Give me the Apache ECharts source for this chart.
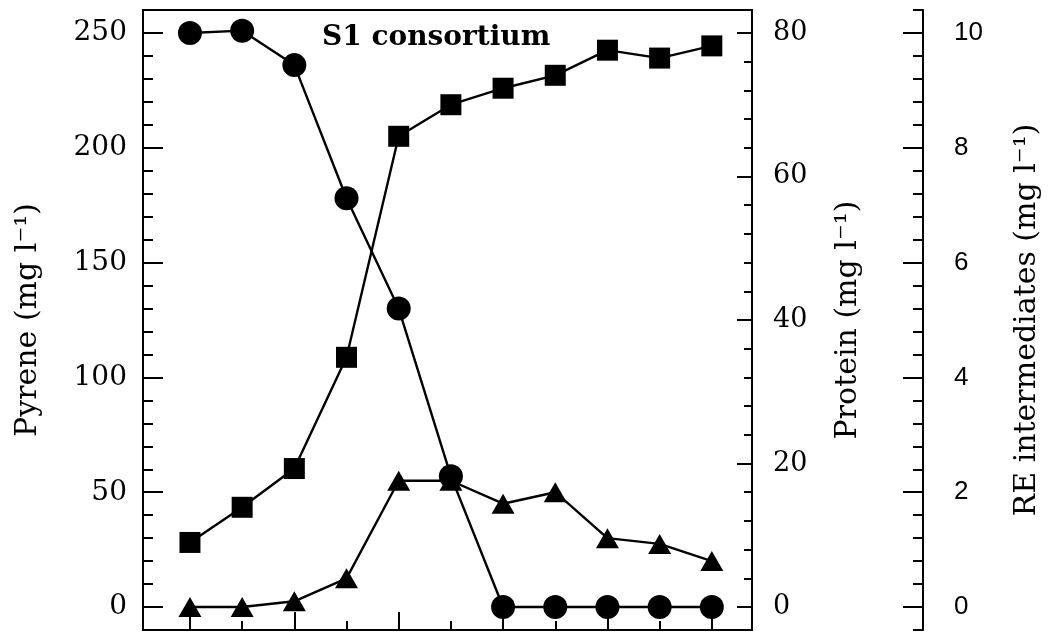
<!DOCTYPE html>
<html>
<head>
<meta charset="utf-8">
<script src="https://cdn.jsdelivr.net/npm/echarts@6/dist/echarts.min.js"></script>
<style>
  html, body { margin: 0; padding: 0; background: #fff; }
</style>
</head>
<body>
<div id="chart" style="width: 1056px; height: 634px;"></div>
<script>
// sampling points (same x for all three series)
const xValues = [0, 1, 2, 3, 4, 5, 6, 7, 8, 9, 10];
// Pyrene (mg l-1), circles, left axis
const pyrene = [250, 251, 236, 178, 130, 57, 0, 0, 0, 0, 0];
// Protein (mg l-1), squares, right axis
const protein = [9.0, 13.9, 19.3, 34.8, 65.6, 70.0, 72.3, 74.1, 77.6, 76.5, 78.2];
// RE intermediates (mg l-1), triangles, far right axis
const reInter = [0, 0, 0.1, 0.5, 2.2, 2.2, 1.8, 2.0, 1.2, 1.1, 0.8];

// tick values
const xMajor = [0, 2, 4, 6, 8, 10];
const xMinor = [1, 3, 5, 7, 9];
const pyreneMajor = [0, 50, 100, 150, 200, 250];
const pyreneMinor = [10, 20, 30, 40, 60, 70, 80, 90, 110, 120, 130, 140, 160, 170, 180, 190, 210, 220, 230, 240];
const proteinMajor = [0, 20, 40, 60, 80];
const proteinMinor = [4, 8, 12, 16, 24, 28, 32, 36, 44, 48, 52, 56, 64, 68, 72, 76];
const reMajor = [0, 2, 4, 6, 8, 10];
const reMinor = [-0.4, 0.4, 0.8, 1.2, 1.6, 2.4, 2.8, 3.2, 3.6, 4.4, 4.8, 5.2, 5.6, 6.4, 6.8, 7.2, 7.6, 8.4, 8.8, 9.2, 9.6, 10.4];

const black = '#000';
const serif = 'DejaVu Serif';

function pairs(ys) {
  return xValues.map((x, i) => [x, ys[i]]);
}

// axis helper: one axis for the long ticks (+labels), another for the short ones
function ax(opt) {
  return Object.assign({
    type: 'value',
    splitLine: { show: false },
    axisLine: { show: false, onZero: false },
    axisTick: { show: false },
    axisLabel: { show: false }
  }, opt);
}

const myChart = echarts.init(document.getElementById('chart'));

const option = {
  animation: false,
  title: {
    text: 'S1 consortium',
    left: 322,
    top: 24,
    padding: 0,
    textStyle: { fontFamily: serif, fontWeight: 'bold', fontSize: 28, color: black }
  },
  grid: {
    left: 143, right: 304, top: 10, bottom: 4,
    outerBoundsMode: 'none', containLabel: false,
    show: true, borderColor: black, borderWidth: 2, backgroundColor: 'transparent'
  },
  xAxis: [
    ax({
      min: -0.9, max: 10.77, position: 'bottom',
      axisTick: { show: true, inside: true, length: 18, customValues: xMajor, lineStyle: { color: black, width: 2 } }
    }),
    ax({
      min: -0.9, max: 10.77, position: 'bottom',
      axisTick: { show: true, inside: true, length: 9, customValues: xMinor, lineStyle: { color: black, width: 2 } }
    })
  ],
  yAxis: [
    ax({
      position: 'left', min: -10, max: 260,
      name: 'Pyrene (mg l⁻¹)', nameLocation: 'middle', nameGap: 100,
      nameTextStyle: { fontFamily: serif, fontSize: 30, color: black },
      axisTick: { show: true, inside: true, length: 20, customValues: pyreneMajor, lineStyle: { color: black, width: 2 } },
      axisLabel: { show: true, customValues: pyreneMajor, margin: 16, fontFamily: serif, fontSize: 28, color: black }
    }),
    ax({
      position: 'left', min: -10, max: 260,
      axisTick: { show: true, inside: true, length: 10, customValues: pyreneMinor, lineStyle: { color: black, width: 2 } }
    }),
    ax({
      position: 'right', min: -3.2, max: 83.2,
      name: 'Protein (mg l⁻¹)', nameLocation: 'middle', nameGap: 81,
      nameTextStyle: { fontFamily: serif, fontSize: 30, color: black },
      axisTick: { show: true, inside: true, length: 15, customValues: proteinMajor, lineStyle: { color: black, width: 2 } },
      axisLabel: { show: true, customValues: proteinMajor, margin: 21, fontFamily: serif, fontSize: 27, color: black }
    }),
    ax({
      position: 'right', min: -3.2, max: 83.2,
      axisTick: { show: true, inside: true, length: 8, customValues: proteinMinor, lineStyle: { color: black, width: 2 } }
    }),
    ax({
      position: 'right', offset: 171, min: -0.4, max: 10.4,
      name: 'RE intermediates (mg l⁻¹)', nameLocation: 'middle', nameGap: 89,
      nameTextStyle: { fontFamily: serif, fontSize: 30, color: black },
      axisLine: { show: true, onZero: false, lineStyle: { color: black, width: 2 } },
      axisTick: { show: true, inside: true, length: 20, customValues: reMajor, lineStyle: { color: black, width: 2 } },
      axisLabel: { show: true, customValues: reMajor, margin: 31, fontFamily: 'Liberation Sans', fontSize: 26, color: black }
    }),
    ax({
      position: 'right', offset: 171, min: -0.4, max: 10.4,
      axisTick: { show: true, inside: true, length: 10, customValues: reMinor, lineStyle: { color: black, width: 2 } }
    })
  ],
  series: [
    {
      name: 'Pyrene', type: 'line', yAxisIndex: 0,
      data: pairs(pyrene),
      symbol: 'circle', symbolSize: 24,
      lineStyle: { color: black, width: 2.4 },
      itemStyle: { color: black }
    },
    {
      name: 'Protein', type: 'line', yAxisIndex: 2,
      data: pairs(protein),
      symbol: 'rect', symbolSize: 21,
      lineStyle: { color: black, width: 2.4 },
      itemStyle: { color: black }
    },
    {
      name: 'RE intermediates', type: 'line', yAxisIndex: 4,
      data: pairs(reInter),
      symbol: 'triangle', symbolSize: [23, 20],
      lineStyle: { color: black, width: 2.4 },
      itemStyle: { color: black }
    }
  ]
};

myChart.setOption(option);
window.addEventListener('resize', () => {
  myChart.resize();
});
</script>
</body>
</html>
